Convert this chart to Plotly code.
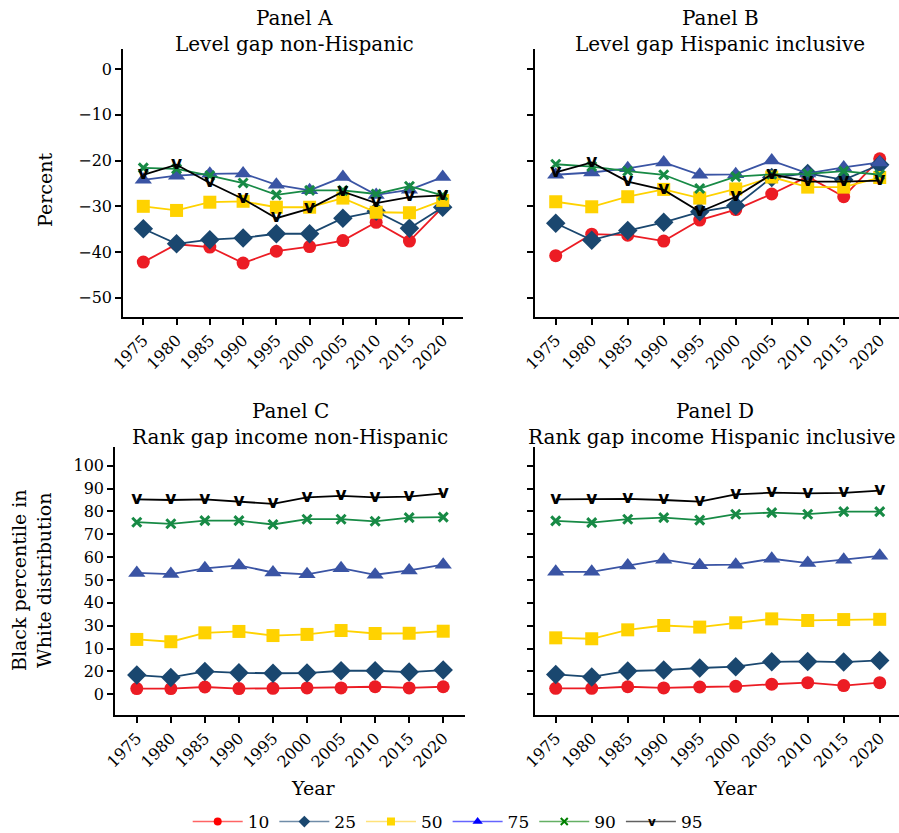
import plotly.graph_objects as go

# Survey years
years = [1975, 1980, 1985, 1990, 1995, 2000, 2005, 2010, 2015, 2020]
year_labels = [str(y) for y in years]

# Panel A: level gap, non-Hispanic (percent)
a10 = [-42.2, -38.3, -38.9, -42.4, -39.8, -38.8, -37.5, -33.5, -37.6, -30.2]
a25 = [-34.9, -38.2, -37.3, -36.9, -36.0, -36.0, -32.6, -31.1, -34.8, -30.2]
a50 = [-30.0, -30.9, -29.1, -28.9, -30.2, -30.2, -28.2, -31.3, -31.4, -28.7]
a75 = [-24.2, -23.3, -22.9, -22.8, -25.3, -26.5, -23.6, -27.5, -26.4, -23.6]
a90 = [-21.6, -21.8, -23.3, -24.9, -27.5, -26.5, -26.5, -27.3, -25.6, -27.6]
a95 = [-23.1, -20.9, -24.9, -28.4, -32.6, -30.5, -26.8, -29.3, -28.0, -27.6]

# Panel B: level gap, Hispanic inclusive (percent)
b10 = [-40.8, -36.1, -36.3, -37.6, -33.0, -30.7, -27.3, -23.5, -27.9, -19.6]
b25 = [-33.7, -37.4, -35.3, -33.5, -31.2, -29.9, -23.7, -22.8, -24.2, -20.9]
b50 = [-29.0, -30.1, -27.9, -26.3, -28.2, -26.2, -23.6, -25.8, -25.8, -23.7]
b75 = [-23.1, -22.6, -21.7, -20.4, -23.1, -23.0, -20.0, -22.8, -21.5, -20.4]
b90 = [-20.8, -21.3, -22.3, -23.1, -26.1, -23.5, -23.0, -22.9, -22.3, -23.1]
b95 = [-22.6, -20.4, -24.6, -26.4, -31.2, -27.9, -23.0, -24.6, -24.6, -24.4]

# Panel C: rank gap, income non-Hispanic
c10 = [2.5, 2.5, 3.2, 2.5, 2.6, 2.8, 2.8, 3.3, 2.8, 3.3]
c25 = [8.4, 7.4, 10.0, 9.4, 9.2, 9.3, 10.3, 10.3, 9.7, 10.6]
c50 = [24.0, 23.0, 26.9, 27.5, 25.7, 26.2, 27.9, 26.6, 26.7, 27.6]
c75 = [53.1, 52.6, 55.1, 56.4, 53.3, 52.5, 55.2, 52.3, 54.2, 56.7]
c90 = [75.3, 74.6, 76.0, 76.0, 74.3, 76.6, 76.6, 75.7, 77.3, 77.5]
c95 = [85.3, 85.0, 85.3, 84.3, 83.3, 86.2, 86.8, 86.2, 86.5, 87.9]

# Panel D: rank gap, income Hispanic inclusive
d10 = [2.6, 2.6, 3.3, 2.8, 3.2, 3.5, 4.4, 5.1, 3.8, 5.1]
d25 = [8.7, 7.6, 10.2, 10.6, 11.5, 12.1, 14.2, 14.4, 14.1, 14.8]
d50 = [24.7, 24.3, 28.2, 30.1, 29.4, 31.3, 33.0, 32.3, 32.7, 32.8]
d75 = [53.6, 53.6, 56.3, 58.9, 56.5, 56.7, 59.3, 57.4, 58.9, 60.6]
d90 = [75.9, 75.1, 76.6, 77.3, 76.2, 78.8, 79.5, 78.8, 79.9, 79.9]
d95 = [85.3, 85.3, 85.5, 85.0, 84.3, 87.5, 88.2, 87.9, 88.1, 89.1]

percentiles = ["10", "25", "50", "75", "90", "95"]

# Tick labels
level_ticks = [0, -10, -20, -30, -40, -50]
level_text = ["0", "\u221210", "\u221220", "\u221230", "\u221240", "\u221250"]
rank_ticks = [0, 10, 20, 30, 40, 50, 60, 70, 80, 90, 100]
rank_text = ["0", "20", "10", "30", "40", "50", "60", "70", "80", "90", "100"]

# Styles per percentile
line_colors = ["#EC1C24", "#1A476F", "#FFD200", "#3A54A4", "#178A45", "#000000"]
symbols = ["circle", "diamond", "square", "triangle-up", "x-thin", None]
sizes = [13, 15, 13, 15, 9, None]
legend_line = ["#FF6464", "#6F8CA8", "#FFE27A", "#6464FF", "#64B064", "#606060"]
legend_marker = ["#FF0000", "#1A476F", "#FFD700", "#0000FF", "#008000", "#000000"]
legend_sizes = [8, 9, 8, 9, 7, None]

SERIF = "DejaVu Serif"
V_FONT = dict(family="DejaVu Sans", size=17, color="#000000", weight="bold")
panels = [
    ([a10, a25, a50, a75, a90, a95], "x", "y"),
    ([b10, b25, b50, b75, b90, b95], "x2", "y2"),
    ([c10, c25, c50, c75, c90, c95], "x3", "y3"),
    ([d10, d25, d50, d75, d90, d95], "x4", "y4"),
]

fig = go.Figure()

for series, xa, ya in panels:
    for i, vals in enumerate(series):
        if symbols[i] is None:
            # the 95th percentile uses a "v" glyph as its marker
            fig.add_trace(go.Scatter(
                x=years, y=vals, xaxis=xa, yaxis=ya, mode="lines+text",
                texttemplate="v", textposition="middle center", textfont=V_FONT,
                line=dict(color=line_colors[i], width=1.8),
                showlegend=False, hoverinfo="x+y",
            ))
        else:
            mk = dict(symbol=symbols[i], size=sizes[i], color=line_colors[i])
            if symbols[i] == "x-thin":
                mk["line"] = dict(color=line_colors[i], width=3)
            fig.add_trace(go.Scatter(
                x=years, y=vals, xaxis=xa, yaxis=ya, mode="lines+markers",
                line=dict(color=line_colors[i], width=1.8),
                marker=mk, showlegend=False,
            ))

# Legend entries
for i, name in enumerate(percentiles):
    if symbols[i] is None:
        fig.add_trace(go.Scatter(
            x=[None], y=[None], mode="lines", name=name,
            line=dict(color=legend_line[i], width=1.5), showlegend=True,
        ))
        continue
    mk = dict(symbol=symbols[i], size=legend_sizes[i], color=legend_marker[i])
    if symbols[i] == "x-thin":
        mk["line"] = dict(color=legend_marker[i], width=2)
    fig.add_trace(go.Scatter(
        x=[None], y=[None], mode="lines+markers", name=name,
        line=dict(color=legend_line[i], width=1.5), marker=mk, showlegend=True,
    ))

W, H = 899, 833


def px_x(v):
    return v / W


def px_y(v):
    return 1 - v / H


axis_common = dict(
    showline=True, linecolor="black", linewidth=1.5, ticks="outside",
    ticklen=6, tickwidth=1.5, tickcolor="black", showgrid=False,
    zeroline=False, tickfont=dict(family=SERIF, size=16, color="black"),
)

x_common = dict(axis_common, tickvals=years, ticktext=year_labels, tickangle=-45)

top_dom = [px_y(317), px_y(49)]
bot_dom = [px_y(715), px_y(447)]

fig.update_layout(
    width=W, height=H,
    margin=dict(l=0, r=0, t=0, b=0, autoexpand=False),
    paper_bgcolor="white", plot_bgcolor="white",
    font=dict(family=SERIF, size=16, color="black"),
    xaxis=dict(x_common, domain=[px_x(123), px_x(463)], range=[1971.95, 2023.05], anchor="y"),
    yaxis=dict(axis_common, domain=top_dom, range=[-54.2, 4.4], tickvals=level_ticks,
               ticktext=level_text, anchor="x"),
    xaxis2=dict(x_common, domain=[px_x(535), 1.0], range=[1972.12, 2022.68], anchor="y2"),
    yaxis2=dict(axis_common, domain=top_dom, range=[-54.2, 4.4], tickvals=level_ticks,
                showticklabels=False, anchor="x2"),
    xaxis3=dict(x_common, domain=[px_x(115), px_x(465)], range=[1971.8, 2023.2], anchor="y3"),
    yaxis3=dict(axis_common, domain=bot_dom, range=[-9.06, 108.2], tickvals=rank_ticks,
                ticktext=rank_text, anchor="x3"),
    xaxis4=dict(x_common, domain=[px_x(535), 1.0], range=[1972.12, 2022.68], anchor="y4"),
    yaxis4=dict(axis_common, domain=bot_dom, range=[-9.06, 108.2], tickvals=rank_ticks,
                showticklabels=False, anchor="x4"),
    legend=dict(
        orientation="h", x=0.498, xanchor="center", y=px_y(822), yanchor="middle",
        font=dict(family=SERIF, size=17, color="black"), itemwidth=50,
        bgcolor="rgba(0,0,0,0)", tracegroupgap=0,
    ),
)

# "v" glyph sitting on the legend sample line of the 95th percentile
fig.add_annotation(x=px_x(652), y=px_y(822), xref="paper", yref="paper", text="v",
                   showarrow=False, xanchor="center", yanchor="middle",
                   font=dict(family="DejaVu Sans", size=12, color="#000000", weight="bold"))

title_font = dict(family=SERIF, size=20, color="black")
titles = [
    (294, 18, "Panel A"), (294, 44, "Level gap non-Hispanic"),
    (720, 18, "Panel B"), (720, 44, "Level gap Hispanic inclusive"),
    (290, 411, "Panel C"), (290, 437, "Rank gap income non-Hispanic"),
    (715, 411, "Panel D"), (712, 437, "Rank gap income Hispanic inclusive"),
]
for x, y, t in titles:
    fig.add_annotation(x=px_x(x), y=px_y(y), xref="paper", yref="paper", text=t,
                       showarrow=False, xanchor="center", yanchor="middle", font=title_font)

label_font = dict(family=SERIF, size=19, color="black")
fig.add_annotation(x=px_x(45), y=px_y(190), xref="paper", yref="paper", text="Percent",
                   textangle=-90, showarrow=False, xanchor="center", yanchor="middle",
                   font=label_font)
fig.add_annotation(x=px_x(31), y=px_y(580), xref="paper", yref="paper",
                   text="Black percentile in<br>White distribution",
                   textangle=-90, showarrow=False, xanchor="center", yanchor="middle",
                   font=label_font)
fig.add_annotation(x=px_x(313), y=px_y(788), xref="paper", yref="paper", text="Year",
                   showarrow=False, xanchor="center", yanchor="middle", font=label_font)
fig.add_annotation(x=px_x(735), y=px_y(788), xref="paper", yref="paper", text="Year",
                   showarrow=False, xanchor="center", yanchor="middle", font=label_font)

fig.write_html("out.html")
